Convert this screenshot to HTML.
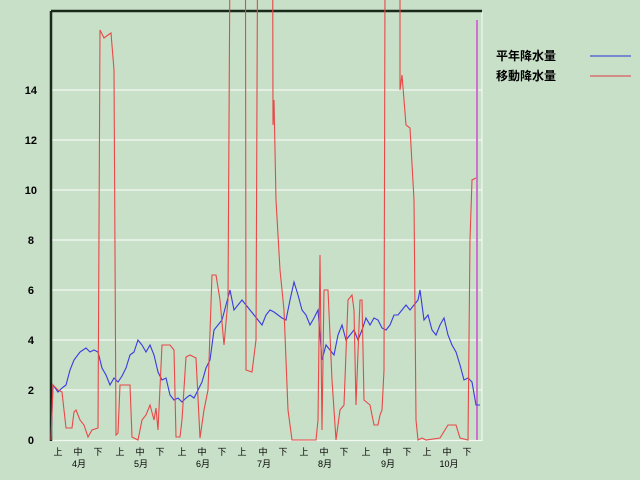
<!DOCTYPE html>
<html><head><meta charset="utf-8"><style>
html,body{margin:0;padding:0;background:#c8e0c8;overflow:hidden;}
svg{display:block;font-family:"Liberation Sans","Noto Sans CJK JP",sans-serif;}
</style></head><body>
<svg width="640" height="480" viewBox="0 0 640 480">
<rect width="640" height="480" fill="#c8e0c8"/>
<g stroke="#f2f8f2" stroke-width="1.2">
<line x1="51" y1="390" x2="482" y2="390"/><line x1="51" y1="340" x2="482" y2="340"/>
<line x1="51" y1="290" x2="482" y2="290"/><line x1="51" y1="240" x2="482" y2="240"/>
<line x1="51" y1="190" x2="482" y2="190"/><line x1="51" y1="140" x2="482" y2="140"/>
<line x1="51" y1="90" x2="482" y2="90"/><line x1="51" y1="440.5" x2="482" y2="440.5"/>
<line x1="482" y1="12" x2="482" y2="441"/>
</g>
<line x1="51" y1="11" x2="482" y2="11" stroke="#1a2a1a" stroke-width="2.5"/>
<line x1="51" y1="11" x2="51" y2="441" stroke="#1a2a1a" stroke-width="2.5"/>
<line x1="477" y1="20" x2="477" y2="440" stroke="#d070d0" stroke-width="2"/>
<g font-size="11" font-weight="bold" fill="#000" text-anchor="end">
<text x="34" y="444">0</text><text x="34" y="394">2</text><text x="34" y="344">4</text><text x="34" y="294">6</text>
<text x="34" y="244">8</text><text x="37" y="194">10</text><text x="37" y="144">12</text><text x="37" y="94">14</text>
</g>
<g font-size="9" fill="#000" text-anchor="middle">
<text x="58" y="455">上</text><text x="78" y="455">中</text><text x="98" y="455">下</text>
<text x="120" y="455">上</text><text x="140" y="455">中</text><text x="160" y="455">下</text>
<text x="182" y="455">上</text><text x="202" y="455">中</text><text x="222" y="455">下</text>
<text x="242" y="455">上</text><text x="263" y="455">中</text><text x="283" y="455">下</text>
<text x="304" y="455">上</text><text x="324" y="455">中</text><text x="344" y="455">下</text>
<text x="366" y="455">上</text><text x="387" y="455">中</text><text x="407" y="455">下</text>
<text x="427" y="455">上</text><text x="447" y="455">中</text><text x="467" y="455">下</text>
<text x="79" y="467">4月</text><text x="141" y="467">5月</text><text x="203" y="467">6月</text>
<text x="264" y="467">7月</text><text x="325" y="467">8月</text><text x="388" y="467">9月</text><text x="449" y="467">10月</text>
</g>
<g font-size="12" font-weight="bold" fill="#000">
<text x="496" y="60">平年降水量</text><text x="496" y="80">移動降水量</text>
</g>
<line x1="590" y1="56" x2="631" y2="56" stroke="#5a6ad0" stroke-width="1.5"/>
<line x1="590" y1="76" x2="631" y2="76" stroke="#d87070" stroke-width="1.5"/>
<polyline fill="none" stroke="#3a3ae0" stroke-width="1.1" points="51,440 53,385 58,392 62,388 66,385 70,370 74,360 80,352 86,348 90,352 94,350 98,352 102,368 106,375 110,385 114,378 118,382 122,376 126,368 130,355 134,352 138,340 142,345 146,352 150,345 154,355 158,372 162,380 166,378 170,395 174,400 178,398 182,402 186,398 190,395 194,398 198,390 202,382 206,368 210,360 214,330 218,325 222,320 226,305 230,290 234,310 238,305 242,300 246,305 250,310 254,315 258,320 262,325 266,315 270,310 274,312 278,315 282,318 286,320 290,300 294,282 298,295 302,310 306,315 310,325 314,318 318,310 322,360 326,345 330,350 334,355 338,335 342,325 346,340 350,335 354,330 358,340 362,330 366,318 370,325 374,318 378,320 382,328 386,330 390,325 394,315 398,315 402,310 406,305 410,310 414,305 418,300 420,290 424,320 428,315 432,330 436,335 440,325 444,318 448,335 452,345 456,352 460,365 464,380 468,378 472,382 476,405 480,405"/>
<polyline fill="none" stroke="#e84848" stroke-width="1.1" points="51,440 53,385 58,390 62,392 66,428 72,428 74,412 76,410 80,420 84,425 88,437 92,430 98,428 100,30 104,38 108,35 111,33 114,70 116,435 118,433 120,385 130,385 132,437 138,440 142,420 146,415 150,405 154,420 156,408 158,430 162,345 170,345 174,350 176,437 180,437 182,420 186,357 190,355 196,358 200,438 204,410 208,390 212,275 216,275 220,300 224,345 228,300 232,-400 245,-400 246,370 252,372 256,340 259,-400 272,-400 273,125 274,100 276,200 280,270 284,310 288,410 292,440 316,440 318,420 320,255 322,430 324,290 328,290 332,380 336,440 340,410 344,405 348,300 352,295 354,310 356,405 360,300 362,300 364,400 370,405 374,425 378,425 380,415 382,410 384,370 386,-400 400,-400 400,90 402,75 406,125 410,128 414,200 416,420 418,440 422,438 426,440 440,438 448,425 456,425 460,438 468,440 470,240 472,180 476,178"/>
</svg>
</body></html>
